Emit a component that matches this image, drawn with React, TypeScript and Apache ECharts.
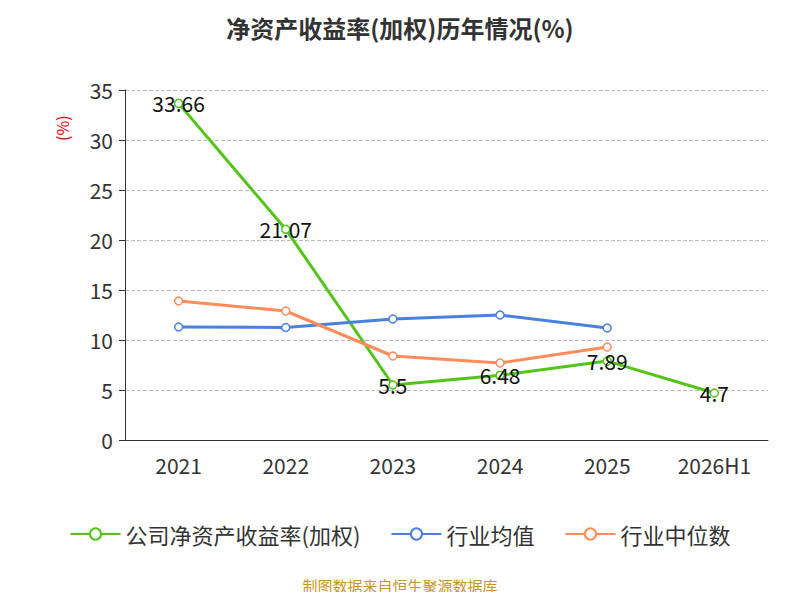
import React, { useEffect, useRef } from 'react';
import * as echarts from 'echarts';

const years = ['2021', '2022', '2023', '2024', '2025', '2026H1'];
const companyRoe = [33.66, 21.07, 5.5, 6.48, 7.89, 4.7];
const industryAvg = [11.3, 11.25, 12.1, 12.5, 11.2, null];
const industryMedian = [13.9, 12.9, 8.4, 7.7, 9.3, null];

const App: React.FC = () => {
  const chartRef = useRef<HTMLDivElement>(null);

  useEffect(() => {
    if (!chartRef.current) return;
    const chart = echarts.init(chartRef.current, undefined, { renderer: 'svg' });
    const font = '"Noto Sans CJK SC", "Noto Sans", sans-serif';

    const option: echarts.EChartsOption = {
      animation: false,
      textStyle: { fontFamily: font },
      title: {
        text: '净资产收益率(加权)历年情况(%)',
        left: 'center',
        top: 2,
        textStyle: { fontSize: 24, fontWeight: 'bold', color: '#333', fontFamily: font },
      },
      grid: { left: 117, right: 24, top: 82, bottom: 152 },
      legend: {
        bottom: 42,
        itemWidth: 50,
        itemHeight: 14,
        itemGap: 30,
        textStyle: { fontSize: 22, color: '#333' },
        data: ['公司净资产收益率(加权)', '行业均值', '行业中位数'],
      },
      graphic: [
        {
          type: 'text',
          left: 'center',
          top: 570,
          style: { text: '制图数据来自恒生聚源数据库', fill: '#c8961e', fontSize: 15, fontFamily: font },
        },
        {
          type: 'text',
          x: 46,
          y: 133,
          rotation: Math.PI / 2,
          style: { text: '(%)', fill: '#e00', fontSize: 16, fontFamily: font },
        },
      ],
      xAxis: {
        type: 'category',
        data: years,
        axisLine: { lineStyle: { color: '#333' } },
        axisTick: { length: 6, lineStyle: { color: '#333' } },
        axisLabel: { fontSize: 21, color: '#333', margin: 14 },
      },
      yAxis: {
        type: 'value',
        min: 0,
        max: 35,
        interval: 5,
        axisLine: { show: true, lineStyle: { color: '#333' } },
        axisTick: { show: true, length: 6, lineStyle: { color: '#333' } },
        axisLabel: { fontSize: 21, color: '#333', margin: 12 },
        splitLine: { lineStyle: { type: 'dashed', color: '#bbb' } },
      },
      series: [
        {
          name: '公司净资产收益率(加权)',
          type: 'line',
          data: companyRoe,
          color: '#52c41a',
          symbol: 'circle',
          symbolSize: 8,
          itemStyle: { color: '#fff', borderColor: '#52c41a', borderWidth: 1.5 },
          lineStyle: { width: 3, color: '#52c41a' },
          label: { show: true, position: 'inside', fontSize: 21, color: '#111' },
          z: 3,
        },
        {
          name: '行业均值',
          type: 'line',
          data: industryAvg,
          color: '#4a80e0',
          symbol: 'circle',
          symbolSize: 8,
          itemStyle: { color: '#fff', borderColor: '#4a80e0', borderWidth: 1.5 },
          lineStyle: { width: 3, color: '#4a80e0' },
        },
        {
          name: '行业中位数',
          type: 'line',
          data: industryMedian,
          color: '#ff8c5a',
          symbol: 'circle',
          symbolSize: 8,
          itemStyle: { color: '#fff', borderColor: '#ff8c5a', borderWidth: 1.5 },
          lineStyle: { width: 3, color: '#ff8c5a' },
        },
      ],
    };

    chart.setOption(option);
    return () => chart.dispose();
  }, []);

  return <div ref={chartRef} style={{ width: 784, height: 584 }} />;
};

export default App;
